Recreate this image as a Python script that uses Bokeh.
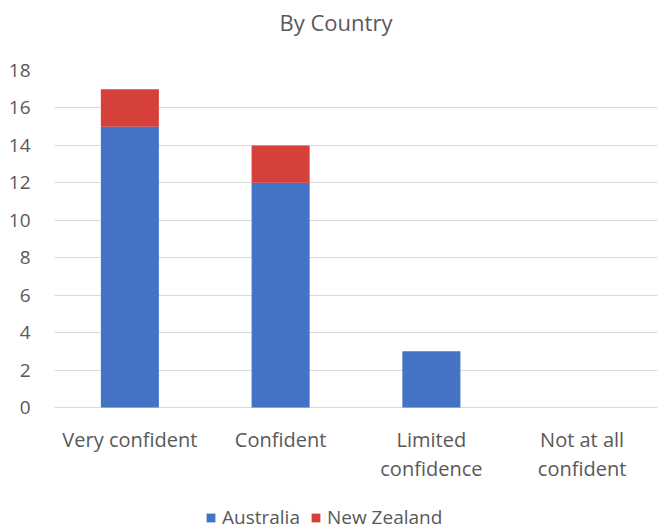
from bokeh.plotting import figure
from bokeh.models import FactorRange, Range1d, Legend, LegendItem, Div, ColumnDataSource
from bokeh.layouts import column
from bokeh.core.properties import value
from bokeh.embed import file_html
from bokeh.resources import INLINE

# Survey responses by confidence level, stacked by country
categories = ["Very confident", "Confident", "Limited\nconfidence", "Not at all\nconfident"]
australia = [15, 12, 3, 0]
new_zealand = [2, 2, 0, 0]
series = ["Australia", "New Zealand"]
colors = ["#4472C4", "#D5403B"]
y_ticks = [0, 2, 4, 6, 8, 10, 12, 14, 16, 18]
title_text = "By Country"

FONT = "Open Sans"
TEXT_COLOR = "#595959"

bars = dict(cat=categories, Australia=australia)
bars["New Zealand"] = new_zealand

title = Div(
    text=title_text, width=672, height=44, margin=0,
    styles={"font-family": FONT, "font-size": "22px", "color": TEXT_COLOR,
            "text-align": "center", "line-height": "44px", "width": "672px"},
)

# The value range reaches below zero so that the category labels and the
# legend sit inside the plotting area, under the zero line.
p = figure(
    frame_width=603, frame_height=461,
    x_range=FactorRange(*categories),
    y_range=Range1d(-6.62, 18),
    output_backend="svg", toolbar_location=None,
    min_border_left=54, min_border_right=15, min_border_top=26, min_border_bottom=0,
)

renderers = p.vbar_stack(series, x="cat", width=0.385, fill_color=colors,
                         line_color=None, source=bars)

# Category labels under each bar
labels = ColumnDataSource(dict(cat=categories, y=[-1.0] * len(categories)))
p.text(x="cat", y="y", text="cat", source=labels,
       text_font=value(FONT), text_font_size="20px", text_color=TEXT_COLOR,
       text_align="center", text_baseline="top", text_line_height=1.05)

p.outline_line_color = None
p.xgrid.grid_line_color = None
p.ygrid.grid_line_color = "#D9D9D9"
p.ygrid.grid_line_width = 1
p.xaxis.visible = False

p.yaxis.ticker = y_ticks
p.yaxis.axis_line_color = None
p.yaxis.major_tick_line_color = None
p.yaxis.minor_tick_line_color = None
p.yaxis.major_label_text_font = FONT
p.yaxis.major_label_text_color = TEXT_COLOR
p.yaxis.major_label_text_font_size = "19px"
p.yaxis.major_label_standoff = 18

legend = Legend(
    items=[LegendItem(label=s, renderers=[r]) for s, r in zip(series, renderers)],
    orientation="horizontal", location=(151, 1),
    border_line_color=None, background_fill_alpha=0,
    label_text_font=FONT, label_text_font_size="19px", label_text_color=TEXT_COLOR,
    glyph_width=11, glyph_height=11, spacing=10, label_standoff=6,
    margin=0, padding=2,
)
p.add_layout(legend, "center")

layout = column(title, p, spacing=0)
open("out.html", "w").write(file_html(layout, INLINE))
